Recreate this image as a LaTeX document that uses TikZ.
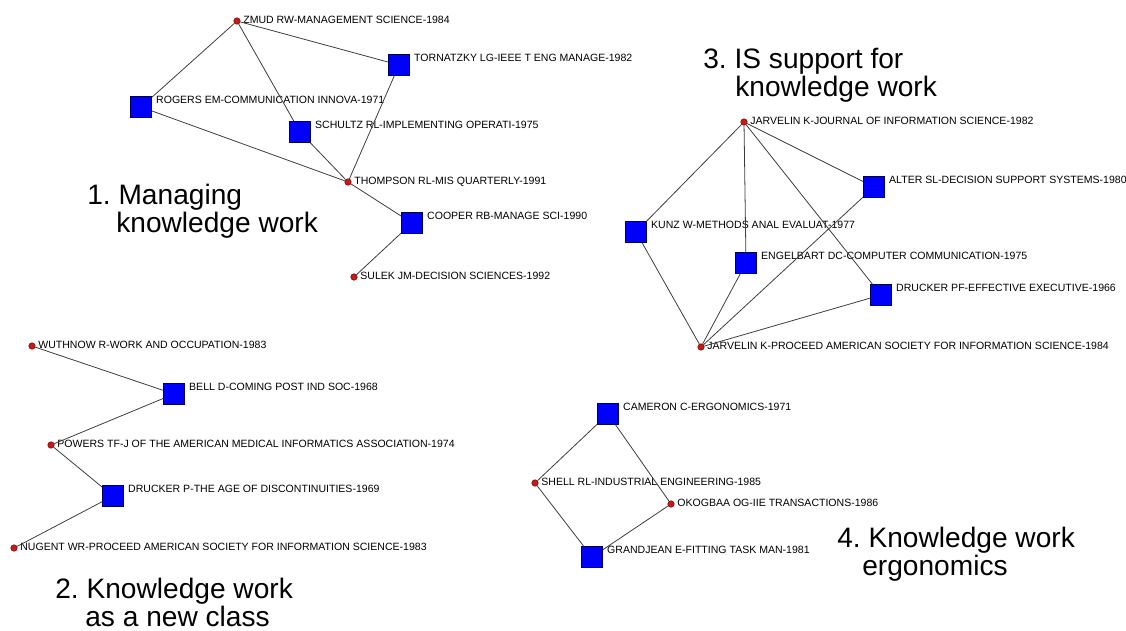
\documentclass[tikz,border=0pt]{standalone}
\usepackage{fontspec}
\setmainfont{Liberation Sans}
\usepackage{xcolor}
\usepackage{tikz}
\usetikzlibrary{shapes, positioning, calc}
\frenchspacing

\definecolor{dotred}{RGB}{200,25,25}
\definecolor{dotrim}{RGB}{120,10,10}
\definecolor{sqblue}{RGB}{0,0,255}
\definecolor{sqrim}{RGB}{0,0,90}
\definecolor{linkgray}{RGB}{60,60,60}

\tikzset{
  lbl/.style={font=\fontsize{6}{7}\selectfont, inner sep=0pt},
  sq/.style={rectangle, draw=sqrim, fill=sqblue, line width=0.4pt, minimum size=0.42cm, inner sep=0pt,
             label={[lbl, anchor=base west, xshift=0.08cm, yshift=0.08cm]east:#1}},
  dot/.style={circle, draw=dotrim, fill=dotred, line width=0.3pt, minimum size=0.13cm, inner sep=0pt,
              label={[lbl, anchor=base west, xshift=0.05cm, yshift=-0.05cm]east:#1}},
  link/.style={draw=linkgray, line width=0.45pt},
  ttl/.style={font=\fontsize{16}{15.6}\selectfont, align=left, inner sep=0pt, anchor=base west}
}

\begin{document}
\begin{tikzpicture}[x=0.02cm, y=-0.02cm]
                    \useasboundingbox (0,0) rectangle (1126,630);

                    % 1. managing knowledge work
                    \node[dot={ZMUD RW-MANAGEMENT SCIENCE-1984}] (Zmud) at (237,21) {};
                    \node[sq={TORNATZKY LG-IEEE T ENG MANAGE-1982}] (Tornatzky) at (399,65) {};
                    \node[sq={ROGERS EM-COMMUNICATION INNOVA-1971}] (Rogers) at (141,107) {};
                    \node[sq={SCHULTZ RL-IMPLEMENTING OPERATI-1975}] (Schultz) at (300,132) {};
                    \node[dot={THOMPSON RL-MIS QUARTERLY-1991}] (Thompson) at (348,182) {};
                    \node[sq={COOPER RB-MANAGE SCI-1990}] (Cooper) at (412,223) {};
                    \node[dot={SULEK JM-DECISION SCIENCES-1992}] (Sulek) at (354,277) {};

                    \draw[link] (Zmud) to (Rogers);
                    \draw[link] (Zmud) to (Schultz);
                    \draw[link] (Zmud) to (Tornatzky);
                    \draw[link] (Rogers) to (Thompson);
                    \draw[link] (Schultz) to (Thompson);
                    \draw[link] (Tornatzky) to (Thompson);
                    \draw[link] (Thompson) to (Cooper);
                    \draw[link] (Cooper) to (Sulek);

                    % 3. IS support
                    \node[dot={JARVELIN K-JOURNAL OF INFORMATION SCIENCE-1982}] (JarvelinJ) at (744,122) {};
                    \node[sq={ALTER SL-DECISION SUPPORT SYSTEMS-1980}] (Alter) at (874,187) {};
                    \node[sq={KUNZ W-METHODS ANAL EVALUAT-1977}] (Kunz) at (636,232) {};
                    \node[sq={ENGELBART DC-COMPUTER COMMUNICATION-1975}] (Engelbart) at (746,263) {};
                    \node[sq={DRUCKER PF-EFFECTIVE EXECUTIVE-1966}] (DruckerPF) at (881,295) {};
                    \node[dot={JARVELIN K-PROCEED AMERICAN SOCIETY FOR INFORMATION SCIENCE-1984}] (JarvelinP) at (701,347) {};

                    \draw[link] (JarvelinJ) to (Kunz);
                    \draw[link] (JarvelinJ) to (Engelbart);
                    \draw[link] (JarvelinJ) to (DruckerPF);
                    \draw[link] (JarvelinJ) to (Alter);
                    \draw[link] (Alter) to (JarvelinP);
                    \draw[link] (Kunz) to (JarvelinP);
                    \draw[link] (Engelbart) to (JarvelinP);
                    \draw[link] (DruckerPF) to (JarvelinP);

                    % 2. new class
                    \node[dot={WUTHNOW R-WORK AND OCCUPATION-1983}] (Wuthnow) at (32,346) {};
                    \node[sq={BELL D-COMING POST IND SOC-1968}] (Bell) at (174,394) {};
                    \node[dot={POWERS TF-J OF THE AMERICAN MEDICAL INFORMATICS ASSOCIATION-1974}] (Powers) at (51,445) {};
                    \node[sq={DRUCKER P-THE AGE OF DISCONTINUITIES-1969}] (DruckerP) at (113,496) {};
                    \node[dot={NUGENT WR-PROCEED AMERICAN SOCIETY FOR INFORMATION SCIENCE-1983}] (Nugent) at (14,548) {};

                    \draw[link] (Wuthnow) to (Bell);
                    \draw[link] (Bell) to (Powers);
                    \draw[link] (Powers) to (DruckerP);
                    \draw[link] (DruckerP) to (Nugent);

                    % 4. ergonomics
                    \node[sq={CAMERON C-ERGONOMICS-1971}] (Cameron) at (608,414) {};
                    \node[dot={SHELL RL-INDUSTRIAL ENGINEERING-1985}] (Shell) at (535,483) {};
                    \node[dot={OKOGBAA OG-IIE TRANSACTIONS-1986}] (Okogbaa) at (671,504) {};
                    \node[sq={GRANDJEAN E-FITTING TASK MAN-1981}] (Grandjean) at (592,557) {};

                    \draw[link] (Cameron) to (Shell);
                    \draw[link] (Cameron) to (Okogbaa);
                    \draw[link] (Shell) to (Grandjean);
                    \draw[link] (Okogbaa) to (Grandjean);

                    % titles (anchored at the baseline of the last line)
                    \node[ttl] (Title1) at (87,232) {1. Managing\\\hspace*{0.58cm}knowledge work};
                    \node[ttl] (Title3) at (703,96) {3. IS support for\\\hspace*{0.64cm}knowledge work};
                    \node[ttl] (Title2) at (55,626) {2. Knowledge work\\\hspace*{0.6cm}as a new class};
                    \node[ttl] (Title4) at (837,575) {4. Knowledge work\\\hspace*{0.5cm}ergonomics};
                \end{tikzpicture}
\end{document}
